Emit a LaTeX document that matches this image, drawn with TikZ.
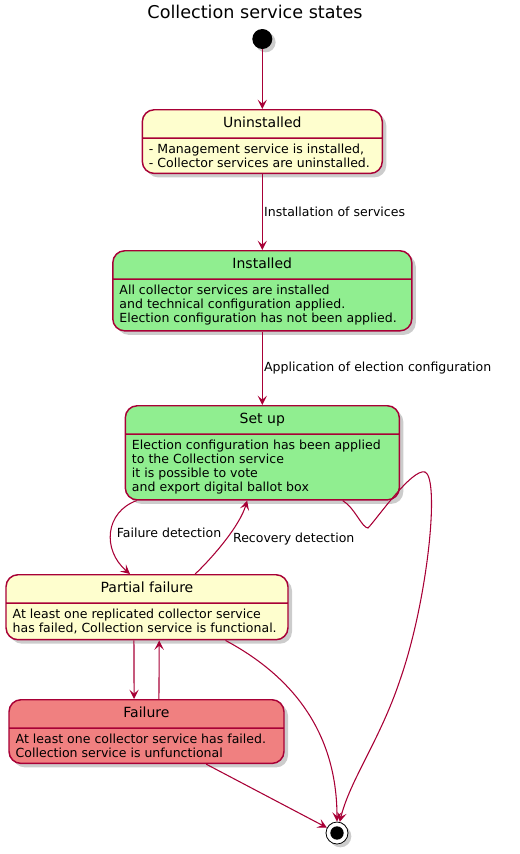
\documentclass[tikz,border=0pt]{standalone}
\usepackage{fontspec}
\setmainfont{DejaVu Sans}
\usetikzlibrary{positioning,arrows.meta,shapes.multipart,shadows,calc}
\definecolor{crim}{HTML}{A80036}
\definecolor{stylw}{HTML}{FEFECE}
\definecolor{stgrn}{HTML}{90EE90}
\definecolor{stred}{HTML}{F08080}
\newcommand{\stname}[1]{{\fontsize{10.5}{12.6}\selectfont\strut #1}}

\begin{document}
\begin{tikzpicture}[
  x=0.75pt, y=-0.75pt,
  font=\fontsize{9.4}{10.5}\selectfont,
  st/.style={rectangle split, rectangle split parts=2,
             rectangle split part align={center,left},
             draw=crim, line width=1.1pt, rounded corners=9pt,
             align=left, inner xsep=5pt, inner ysep=3.8pt, anchor=north,
             drop shadow={shadow xshift=3pt, shadow yshift=-3pt, opacity=0.4}},
  arr/.style={crim, line width=0.8pt, -{Stealth[length=7pt, width=7pt, inset=3pt]}},
  lbl/.style={inner sep=1pt, text=black}]
\useasboundingbox (0,0) rectangle (519,854);

% title, start and end
\node[font=\fontsize{13.2}{15}\selectfont] (title) at (255,12) {Collection service states};
\node[circle, fill=black, minimum size=15pt, inner sep=0pt,
      drop shadow={shadow xshift=2.5pt, shadow yshift=-2.5pt, opacity=0.4}] (start) at (262.3,39) {};
\node[circle, draw=black, fill=white, line width=0.6pt, minimum size=16.5pt, inner sep=0pt,
      path picture={\fill[black] (path picture bounding box.center) circle (5pt);},
      drop shadow={shadow xshift=2.5pt, shadow yshift=-2.5pt, opacity=0.4}] (fin) at (337,833) {};

% states
\node[st, fill=stylw, minimum width=180pt] (uni) at (262.3,109)
  {\stname{Uninstalled}\nodepart{two}- Management service is installed,\\- Collector services are uninstalled.};
\node[st, fill=stgrn, minimum width=224.25pt] (inst) at (262.3,250)
  {\stname{Installed}\nodepart{two}All collector services are installed\\and technical configuration applied.\\Election configuration has not been applied.};
\node[st, fill=stgrn, minimum width=205.5pt] (setup) at (262.3,405)
  {\stname{Set up}\nodepart{two}Election configuration has been applied\\to the Collection service\\it is possible to vote\\and export digital ballot box};
\node[st, fill=stylw, minimum width=211.5pt] (pf) at (147,574)
  {\stname{Partial failure}\nodepart{two}At least one replicated collector service\\has failed, Collection service is functional.};
\node[st, fill=stred, minimum width=206.25pt] (fail) at (146.5,699)
  {\stname{Failure}\nodepart{two}At least one collector service has failed.\\Collection service is unfunctional};

% transitions
\draw[arr] (start.south) -- (uni.north);
\draw[arr] (uni.south) -- node[lbl, right] {Installation of services} (inst.north);
\draw[arr] (inst.south) -- node[lbl, right] {Application of election configuration} (setup.north);
\draw[arr] ($(setup.south west)!.044!(setup.south east)$) .. controls (105,512) and (102,550)
  .. node[lbl, right=3pt] {Failure detection} ($(pf.north west)!.44!(pf.north east)$);
\draw[arr] ($(pf.north west)!.67!(pf.north east)$) .. controls (215,555) and (240,525)
  .. node[lbl, right=4pt] {Recovery detection} ($(setup.south west)!.445!(setup.south east)$);
\draw[arr] ($(setup.south west)!.792!(setup.south east)$) .. controls (355,508) and (362,528) .. (368,528)
  .. controls (376,520) and (412,468) .. (425,472)
  .. controls (440,478) and (428,600) .. (400,680)
  .. controls (380,740) and (350,780) .. (fin);
\draw[arr] ($(pf.south west)!.454!(pf.south east)$) -- ($(fail.north west)!.455!(fail.north east)$);
\draw[arr] ($(fail.north west)!.545!(fail.north east)$) -- ($(pf.south west)!.543!(pf.south east)$);
\draw[arr] ($(pf.south west)!.777!(pf.south east)$) .. controls (290,675) and (337,730) .. (fin);
\draw[arr] ($(fail.south west)!.716!(fail.south east)$) -- (fin);
\end{tikzpicture}
\end{document}
